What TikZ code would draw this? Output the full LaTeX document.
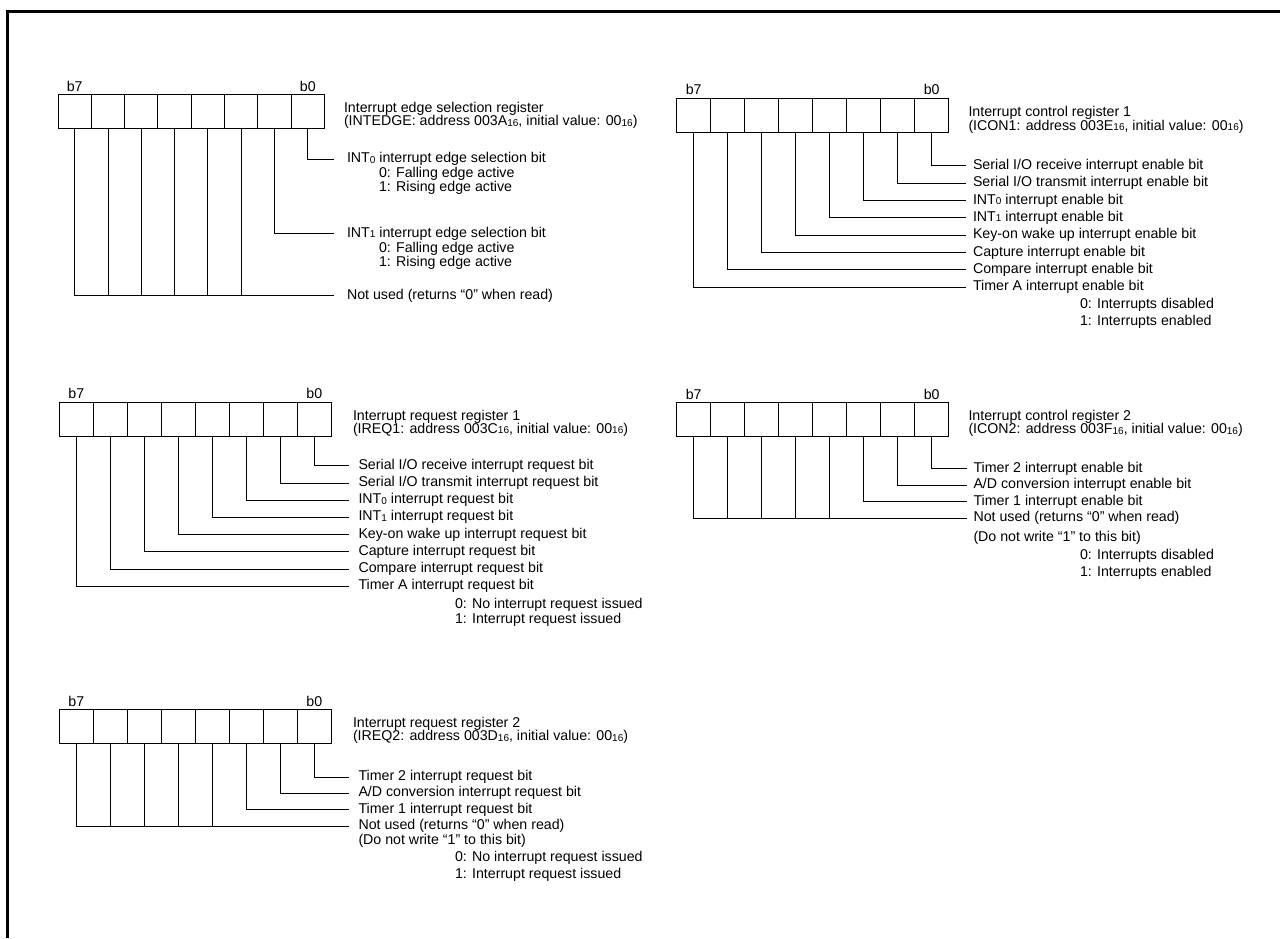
\documentclass[tikz,border=0pt]{standalone}
\usepackage{fontspec}
\setmainfont{Liberation Sans}
\usetikzlibrary{calc}
\newcommand\sbs[1]{\raisebox{-0.5pt}{\fontsize{10pt}{10pt}\selectfont #1}}
\tikzset{
  cell/.style={draw, line width=0.9pt, inner sep=0pt, outer sep=0pt},
  lbl/.style={inner sep=0pt, outer sep=0pt, anchor=base west, font=\fontsize{14.2pt}{15pt}\selectfont},
  bitlbl/.style={lbl, anchor=base},
  conn/.style={draw, line width=0.9pt},
  frame/.style={line width=3pt},
}
% #1 prefix, #2 x left, #3 y top, #4 cell width, #5 cell height
\newcommand\regcells[5]{%
  \foreach \i/\b in {0/7,1/6,2/5,3/4,4/3,5/2,6/1,7/0}{
    \node[cell, minimum width=#4pt, minimum height=#5pt, anchor=north west] (#1-\b) at ({#2+\i*#4},#3) {};
  }
  \node[bitlbl] (#1-l7) at ($(#1-7.north)+(0,-3.5)$) {b7};
  \node[bitlbl] (#1-l0) at ($(#1-0.north)+(0,-3.5)$) {b0};
}
% #1 prefix, #2 bit, #3 x end of line, #4 y of line, #5 x of text, #6 text
\newcommand\bitline[6]{%
  \coordinate (#1-e#2) at (#3,#4);
  \node[lbl] (#1-x#2) at (#5,#4+3.5) {#6};
  \draw[conn] (#1-#2.south) |- (#1-e#2);
}
\begin{document}
\begin{tikzpicture}[x=1pt,y=-1pt]
\useasboundingbox (0,0) rectangle (1280,938);
\fill[white] (0,0) rectangle (1280,938);
\coordinate (fa) at (7.5,938);
\coordinate (fb) at (7.5,11.5);
\coordinate (fc) at (1280,11.5);
\draw[frame] (fa) -- (fb) -- (fc);

% ---------- Block 1: INTEDGE ----------
\regcells{a}{58}{94.5}{33.3}{34}
\node[lbl] (a-t1) at (344,112.5) {Interrupt edge selection register};
\node[lbl] (a-t2) at (344,125.5) {(INTEDGE: address 003A\sbs{16}, initial value: 00\sbs{16})};
\bitline{a}{0}{334}{159}{347}{INT\sbs{0} interrupt edge selection bit}
\node[lbl] (a-x0a) at (379,177) {0: Falling edge active};
\node[lbl] (a-x0b) at (379,191) {1: Rising edge active};
\bitline{a}{1}{334}{233.5}{347}{INT\sbs{1} interrupt edge selection bit}
\node[lbl] (a-x1a) at (379,252) {0: Falling edge active};
\node[lbl] (a-x1b) at (379,266.5) {1: Rising edge active};
\coordinate (a-eN) at (334,295.5);
\node[lbl] (a-xN) at (347,299) {Not used (returns “0” when read)};
\draw[conn] (a-7.south) |- (a-eN);
\foreach \b in {2,...,6} \draw[conn] (a-\b.south) -- (a-\b.south |- a-eN);

% ---------- Block 2: ICON1 ----------
\regcells{b}{676.7}{98}{34}{34}
\node[lbl] (b-t1) at (968.5,116.5) {Interrupt control register 1};
\node[lbl] (b-t2) at (968.5,130) {(ICON1: address 003E\sbs{16}, initial value: 00\sbs{16})};
\bitline{b}{0}{966}{165.8}{973}{Serial I/O receive interrupt enable bit}
\bitline{b}{1}{966}{183.15}{973}{Serial I/O transmit interrupt enable bit}
\bitline{b}{2}{966}{200.5}{973}{INT\sbs{0} interrupt enable bit}
\bitline{b}{3}{966}{217.85}{973}{INT\sbs{1} interrupt enable bit}
\bitline{b}{4}{966}{235.2}{973}{Key-on wake up interrupt enable bit}
\bitline{b}{5}{966}{252.55}{973}{Capture interrupt enable bit}
\bitline{b}{6}{966}{269.9}{973}{Compare interrupt enable bit}
\bitline{b}{7}{966}{287.25}{973}{Timer A interrupt enable bit}
\node[lbl] (b-s0) at (1080,308.3) {0: Interrupts disabled};
\node[lbl] (b-s1) at (1080,325.7) {1: Interrupts enabled};

% ---------- Block 3: IREQ1 ----------
\regcells{c}{59.3}{402}{34}{34}
\node[lbl] (c-t1) at (353,420) {Interrupt request register 1};
\node[lbl] (c-t2) at (353,433) {(IREQ1: address 003C\sbs{16}, initial value: 00\sbs{16})};
\bitline{c}{0}{348.5}{465.8}{358.5}{Serial I/O receive interrupt request bit}
\bitline{c}{1}{348.5}{483}{358.5}{Serial I/O transmit interrupt request bit}
\bitline{c}{2}{348.5}{500.2}{358.5}{INT\sbs{0} interrupt request bit}
\bitline{c}{3}{348.5}{517.4}{358.5}{INT\sbs{1} interrupt request bit}
\bitline{c}{4}{348.5}{534.6}{358.5}{Key-on wake up interrupt request bit}
\bitline{c}{5}{348.5}{551.8}{358.5}{Capture interrupt request bit}
\bitline{c}{6}{348.5}{569}{358.5}{Compare interrupt request bit}
\bitline{c}{7}{348.5}{586.2}{358.5}{Timer A interrupt request bit}
\node[lbl] (c-s0) at (455,608.3) {0: No interrupt request issued};
\node[lbl] (c-s1) at (455,623.3) {1: Interrupt request issued};

% ---------- Block 4: ICON2 ----------
\regcells{d}{676.7}{402.7}{34}{34}
\node[lbl] (d-t1) at (968.5,420.7) {Interrupt control register 2};
\node[lbl] (d-t2) at (968.5,433.7) {(ICON2: address 003F\sbs{16}, initial value: 00\sbs{16})};
\bitline{d}{0}{966.5}{468.5}{973.5}{Timer 2 interrupt enable bit}
\bitline{d}{1}{966.5}{485}{973.5}{A/D conversion interrupt enable bit}
\bitline{d}{2}{966.5}{501.5}{973.5}{Timer 1 interrupt enable bit}
\coordinate (d-eN) at (966.5,518);
\node[lbl] (d-xN) at (973.5,521.5) {Not used (returns “0” when read)};
\node[lbl] (d-xN2) at (973.5,541.5) {(Do not write “1” to this bit)};
\draw[conn] (d-7.south) |- (d-eN);
\foreach \b in {3,...,6} \draw[conn] (d-\b.south) -- (d-\b.south |- d-eN);
\node[lbl] (d-s0) at (1080,559.3) {0: Interrupts disabled};
\node[lbl] (d-s1) at (1080,576.7) {1: Interrupts enabled};

% ---------- Block 5: IREQ2 ----------
\regcells{e}{59.3}{709.5}{34}{34}
\node[lbl] (e-t1) at (353,727.5) {Interrupt request register 2};
\node[lbl] (e-t2) at (353,740.5) {(IREQ2: address 003D\sbs{16}, initial value: 00\sbs{16})};
\bitline{e}{0}{348.5}{777}{358.5}{Timer 2 interrupt request bit}
\bitline{e}{1}{348.5}{793.3}{358.5}{A/D conversion interrupt request bit}
\bitline{e}{2}{348.5}{809.7}{358.5}{Timer 1 interrupt request bit}
\coordinate (e-eN) at (348.5,826);
\node[lbl] (e-xN) at (358.5,829.5) {Not used (returns “0” when read)};
\node[lbl] (e-xN2) at (358.5,844) {(Do not write “1” to this bit)};
\draw[conn] (e-7.south) |- (e-eN);
\foreach \b in {3,...,6} \draw[conn] (e-\b.south) -- (e-\b.south |- e-eN);
\node[lbl] (e-s0) at (455,861.7) {0: No interrupt request issued};
\node[lbl] (e-s1) at (455,878.3) {1: Interrupt request issued};
\end{tikzpicture}
\end{document}
